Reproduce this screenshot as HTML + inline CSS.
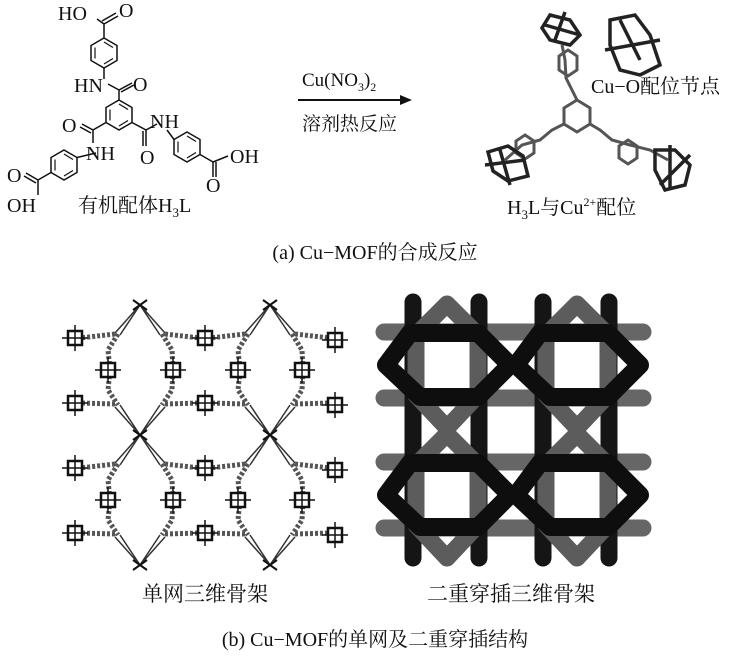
<!DOCTYPE html>
<html><head><meta charset="utf-8"><style>
body{margin:0;background:#fff;}
svg{display:block}
text{font-family:"Liberation Serif","Noto Serif CJK SC","Noto Sans CJK SC",serif;fill:#111;}
</style></head><body>
<svg width="750" height="665" viewBox="0 0 750 665" xmlns="http://www.w3.org/2000/svg">
<defs>
<g id="hex"><polygon points="0,-15 13,-7.5 13,7.5 0,15 -13,7.5 -13,-7.5" fill="none" stroke="#111" stroke-width="1.5"/><path d="M-9,-5.5V5.5M0,11L9,5.5M9,-5.5L0,-11" stroke="#111" stroke-width="1.2" fill="none"/></g>
<g id="sq"><rect x="-7" y="-7" width="14" height="14" fill="#fff" stroke="#111" stroke-width="2.5"/><path d="M-13 0H13M0-13V13" stroke="#111" stroke-width="1.5"/></g>
</defs>
<!-- Molecule -->
<use href="#hex" x="104" y="53"/>
<use href="#hex" x="119" y="115"/>
<use href="#hex" x="64" y="165"/>
<use href="#hex" x="187" y="147"/>
<g stroke="#111" stroke-width="1.5" fill="none">
<path d="M104 38V24M104 24L97 19M104 24L118 16M102 21L116 13"/>
<path d="M104 68V79M108 84L119 90M119 90L132 83M121 92L134 85M119 90V100"/>
<path d="M106 122.5L93 130M93 130L82 124M91 133L80 127M93 130V143M96 153L77 157.5"/>
<path d="M132 122.5L146 130M146 130V146M143 131V146M146 130L157 124M167 130L174 139.5"/>
<path d="M51 172.5L38 180M38 180L26 173M36 183L24 176M38 180V195"/>
<path d="M200 154.5L213 162M213 162L228 156M213 162V177M216 162V177"/>
</g>
<g font-size="20">
<text x="58" y="20">HO</text><text x="119" y="17">O</text>
<text x="74" y="92">HN</text><text x="133" y="91">O</text>
<text x="62" y="132">O</text><text x="86" y="160">NH</text>
<text x="150" y="128">NH</text><text x="140" y="164">O</text>
<text x="7" y="182">O</text><text x="7" y="212">OH</text>
<text x="230" y="163">OH</text><text x="206" y="192">O</text>
<text x="78" y="212">有机配体H<tspan font-size="13" dy="5">3</tspan><tspan dy="-5">L</tspan></text>
</g>
<line x1="298" y1="100" x2="405" y2="100" stroke="#111" stroke-width="2"/>
<polygon points="412,100 400,95 400,105" fill="#111"/>
<text x="302" y="86" font-size="19">Cu(NO<tspan font-size="12" dy="5">3</tspan><tspan dy="-5">)</tspan><tspan font-size="12" dy="5">2</tspan></text>
<text x="302" y="130" font-size="19">溶剂热反应</text>
<g stroke="#555" stroke-width="3" fill="none">
<polygon points="577,100 590,108 590,124 577,132 564,124 564,108"/>
<path d="M577 100L572 90L566 78L565 60L562 45M590 124L600 130L612 140L630 145L650 150L668 160M564 124L552 130L540 140L522 145L505 160"/>
<polygon points="568,50 577,56 577,70 568,76 559,70 559,56"/>
<polygon points="525,135 534,141 534,153 525,159 516,153 516,141"/>
<polygon points="628,140 637,146 637,158 628,164 619,158 619,146"/>
</g>
<g stroke="#222" stroke-width="3.5" fill="none">
<path d="M550 15l20 5 10 15-10 10-20-5-8-12zM545 25l35 10M555 40l10-28"/>
<path d="M610 20l25-5 15 20 10 30-20 10-20-5-10-25zM605 50l55-10M620 20l20 40"/>
<path d="M488 152l20-6 15 10 5 20-20 5-15-10zM485 165l40-5M500 150l10 35"/>
<path d="M655 150l20 0 15 15-5 20-20 5-10-20zM660 185l30-30M670 145l0 45"/>
</g>
<text x="591" y="93" font-size="20">Cu−O配位节点</text>
<text x="507" y="214" font-size="20">H<tspan font-size="13" dy="5">3</tspan><tspan dy="-5">L与Cu</tspan><tspan font-size="12" dy="-8">2+</tspan><tspan dy="8">配位</tspan></text>
<text x="375" y="259" font-size="20" text-anchor="middle">(a) Cu−MOF的合成反应</text>
<g id="tile" stroke="#333" stroke-width="1.5" fill="none">
<path d="M140 305L115 333M140 305L120 335M140 305L165 333M140 305L160 335"/>
<path d="M140 435L115 407M140 435L120 405M140 435L165 407M140 435L160 405"/>
<path d="M118 334L108 350L110 370L108 390L118 405" stroke="#555" stroke-width="5" stroke-dasharray="3 2"/>
<path d="M162 334L172 350L173 370L172 390L162 405" stroke="#555" stroke-width="5" stroke-dasharray="3 2"/>
<path d="M115 334L80 338M165 334L200 338M115 404L80 403M165 404L200 403" stroke="#555" stroke-width="5" stroke-dasharray="3 2"/>
<path d="M133 300l14 10M133 310l14-10" stroke="#111" stroke-width="2"/>
</g>
<use href="#tile" x="130"/><use href="#tile" y="130"/><use href="#tile" x="130" y="130"/>
<path d="M133 560l14 10M133 570l14-10M263 560l14 10M263 570l14-10" stroke="#111" stroke-width="2"/>
<g>
<use href="#sq" x="75" y="338"/><use href="#sq" x="75" y="403"/><use href="#sq" x="108" y="370"/><use href="#sq" x="173" y="370"/>
<use href="#sq" x="205" y="338"/><use href="#sq" x="205" y="403"/><use href="#sq" x="238" y="370"/><use href="#sq" x="302" y="370"/><use href="#sq" x="335" y="340"/><use href="#sq" x="335" y="405"/>
<use href="#sq" x="75" y="468"/><use href="#sq" x="75" y="533"/><use href="#sq" x="108" y="500"/><use href="#sq" x="173" y="500"/>
<use href="#sq" x="205" y="468"/><use href="#sq" x="205" y="533"/><use href="#sq" x="238" y="500"/><use href="#sq" x="302" y="500"/><use href="#sq" x="335" y="470"/><use href="#sq" x="335" y="535"/>
</g>
<g fill="none" stroke-linejoin="round" stroke-linecap="round">
<g stroke="#666" stroke-width="17">
<path d="M384 332H643M384 398H643M384 462H643M384 528H643"/>
</g>
<g stroke="#151515" stroke-width="17">
<path d="M413 302V558M479 302V558M543 302V558M609 302V558"/>
</g>
<g id="g1" stroke="#5c5c5c" stroke-width="17">
<path d="M416 395V335L447 304L478 335V395L447 428Z"/>
</g>
<use href="#g1" x="130"/><use href="#g1" y="130"/><use href="#g1" x="130" y="130"/>
<g id="b1" stroke="#0e0e0e" stroke-width="18">
<path d="M410 333H478L510 365L478 397H420L386 365Z"/>
</g>
<use href="#b1" x="130"/><use href="#b1" y="130"/><use href="#b1" x="130" y="130"/>
</g>
<text x="205" y="601" font-size="21" text-anchor="middle">单网三维骨架</text>
<text x="511" y="601" font-size="21" text-anchor="middle">二重穿插三维骨架</text>
<text x="375" y="646" font-size="20" text-anchor="middle">(b) Cu−MOF的单网及二重穿插结构</text>
</svg>
</body></html>
